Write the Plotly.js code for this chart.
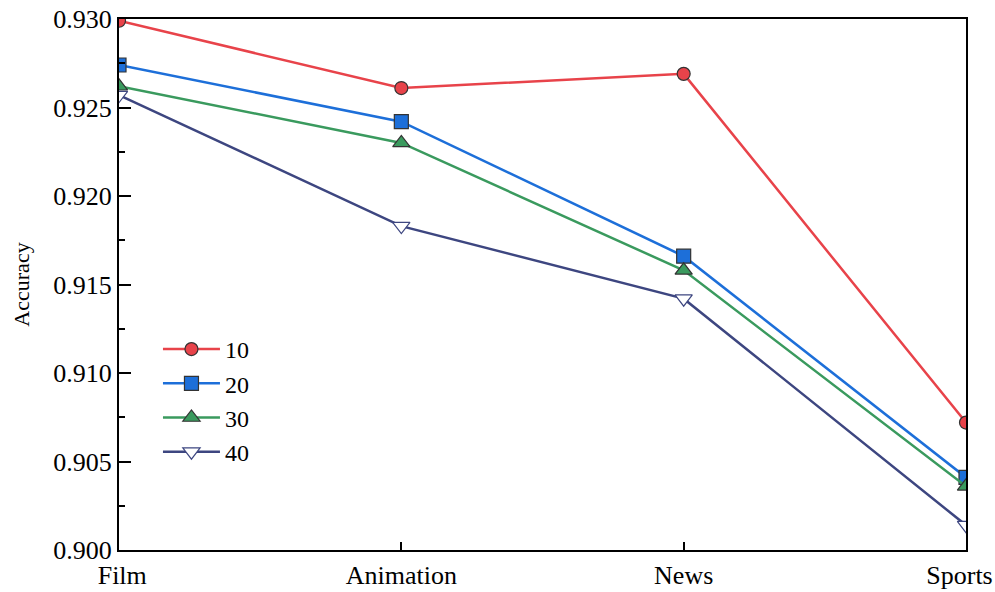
<!DOCTYPE html>
<html>
<head>
<meta charset="utf-8">
<script src="https://cdn.plot.ly/plotly-3.0.1.min.js"></script>
<style>html,body{margin:0;padding:0;background:#fff;}#chart{width:995px;height:592px;}</style>
</head>
<body>
<div id="chart"></div>
<script>
const categories = ["Film", "Animation", "News", "Sports"];
const xTickText = ["\u00a0Film", "Animation", "News", "Sports\u00a0\u00a0"];
const seriesNames = ["10", "20", "30", "40"];
const acc10 = [0.9299, 0.9261, 0.9269, 0.9072];
const acc20 = [0.9274, 0.9242, 0.9166, 0.9041];
const acc30 = [0.9262, 0.9230, 0.9158, 0.9036];
const acc40 = [0.9257, 0.9183, 0.9142, 0.9014];
const yTickVals = [0.900, 0.905, 0.910, 0.915, 0.920, 0.925, 0.930];
const yTickText = ["0.900", "0.905", "0.910", "0.915", "0.920", "0.925", "0.930"];

const colors = ["#e8434a", "#1d6fd9", "#3a9a5e", "#3d4680"];
const fills = ["#e8434a", "#1d6fd9", "#3a9a5e", "#ffffff"];
const symbols = ["circle", "square", "triangle-up", "triangle-down"];
const sizes = [13, 14, 15, 15];
const values = [acc10, acc20, acc30, acc40];
const FONT = "Liberation Serif";

const traces = values.map((v, i) => ({
  x: categories,
  y: v,
  name: seriesNames[i],
  type: "scatter",
  mode: "lines+markers",
  line: {color: colors[i], width: 2.5},
  marker: {symbol: symbols[i], size: sizes[i], color: fills[i],
           line: {color: i === 3 ? colors[3] : "#333333", width: 1.2}}
}));

const layout = {
  width: 995, height: 592,
  margin: {l: 119, r: 29, t: 19, b: 42},
  paper_bgcolor: "#fff", plot_bgcolor: "#fff",
  font: {family: FONT, color: "#000"},
  showlegend: true,
  legend: {x: 0.046, y: 0.42, xanchor: "left", yanchor: "top", itemwidth: 57,
           bgcolor: "rgba(0,0,0,0)", font: {family: FONT, size: 24}},
  xaxis: {
    type: "category", range: [0, 3],
    tickmode: "array", tickvals: categories, ticktext: xTickText,
    showgrid: false, zeroline: false,
    showline: true, linecolor: "#000", linewidth: 2, mirror: true,
    ticks: "inside", ticklen: 8, tickwidth: 2, tickcolor: "#000",
    ticklabelstandoff: 1,
    tickfont: {family: FONT, size: 26}
  },
  yaxis: {
    range: [0.900, 0.930],
    tickmode: "array", tickvals: yTickVals, ticktext: yTickText,
    showgrid: false, zeroline: false,
    showline: true, linecolor: "#000", linewidth: 2, mirror: true,
    ticks: "inside", ticklen: 12, tickwidth: 2, tickcolor: "#000",
    tickfont: {family: FONT, size: 26},
    minor: {dtick: 0.0025, tick0: 0.9, ticks: "inside", ticklen: 6, tickwidth: 2, tickcolor: "#000", showgrid: false},
    title: {text: "Accuracy", font: {family: FONT, size: 22}, standoff: 18}
  }
};

Plotly.newPlot("chart", traces, layout, {displayModeBar: false, staticPlot: true});
</script>
</body>
</html>
